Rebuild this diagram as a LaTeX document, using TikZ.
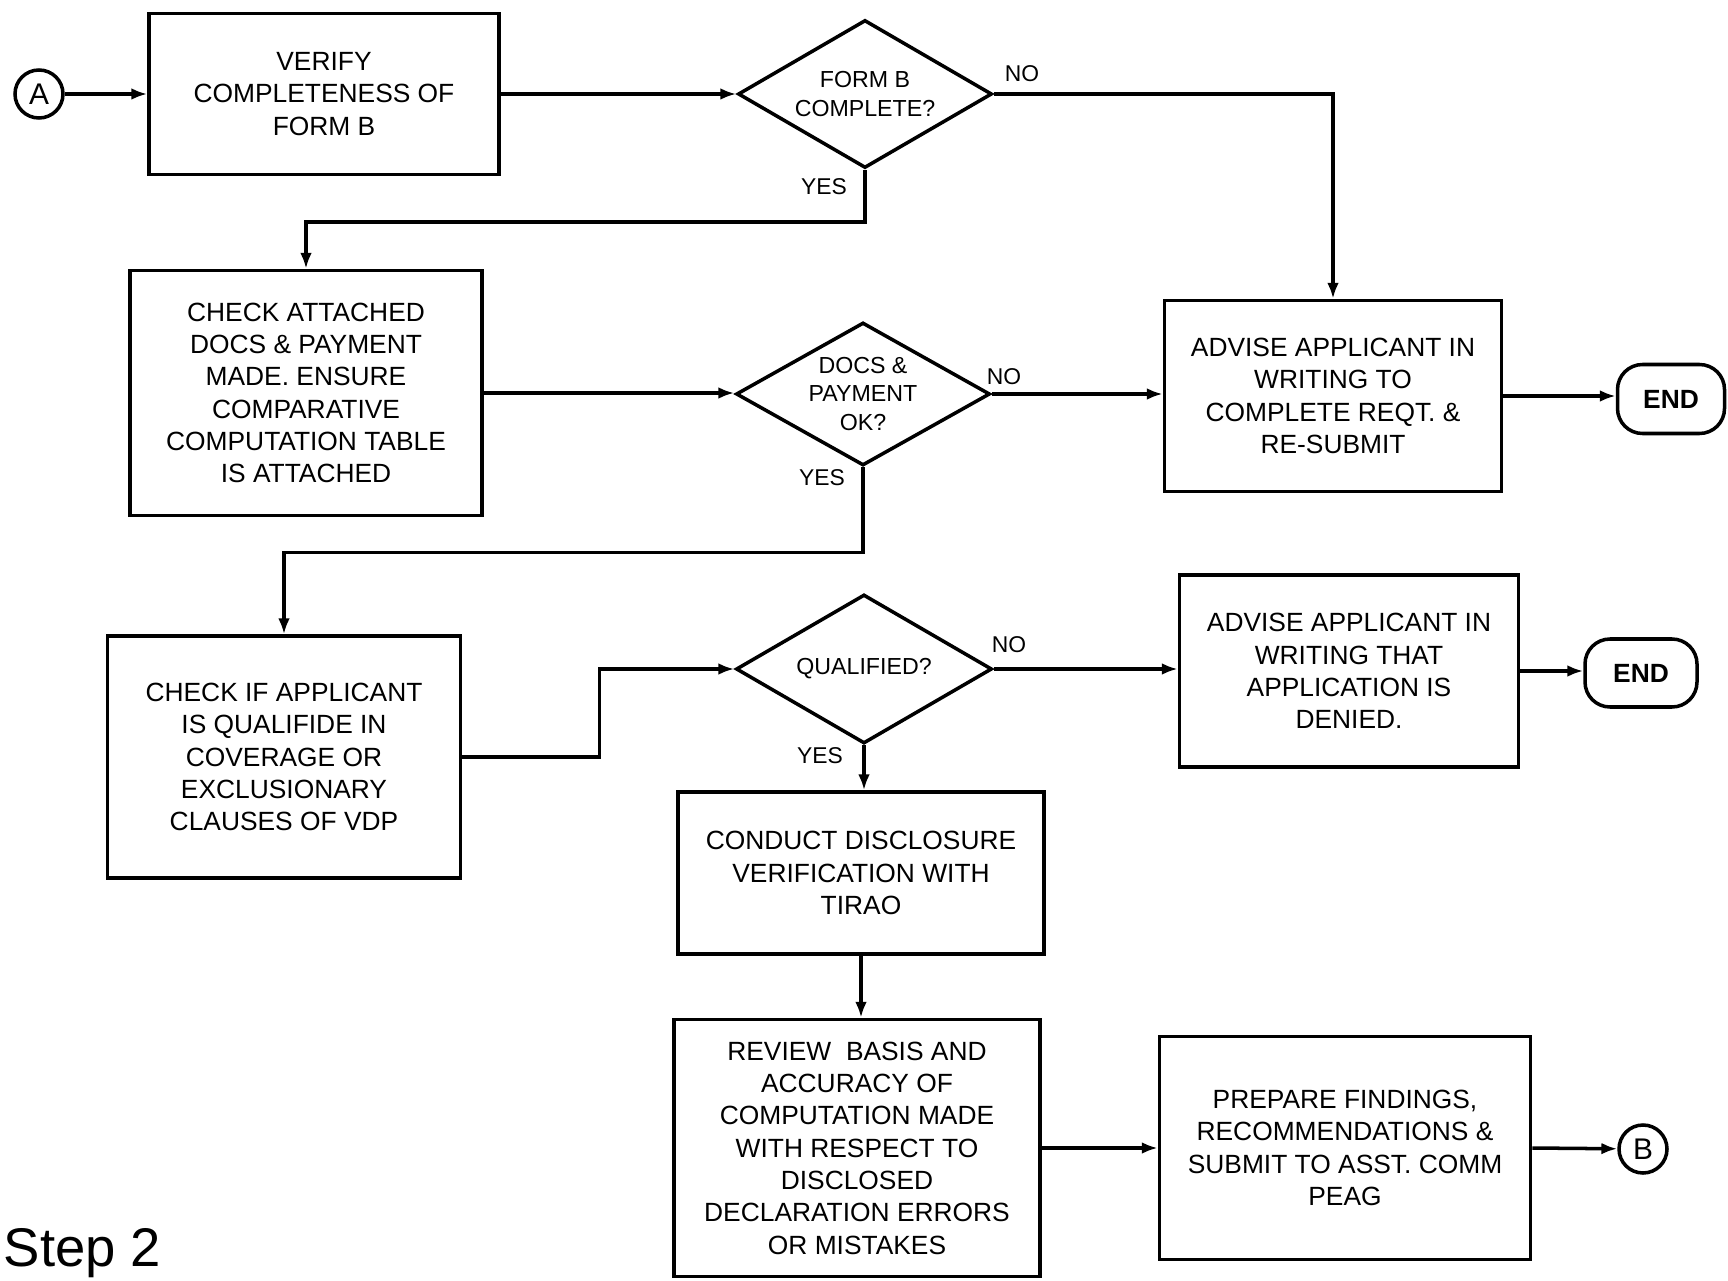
\documentclass[tikz,border=0pt]{standalone}
\usepackage{fontspec}
\setmainfont{Liberation Sans}
\usetikzlibrary{shapes.geometric,arrows.meta}

\begin{document}
\begin{tikzpicture}[x=0.1mm, y=-0.1mm,
    box/.style={draw, line width=1pt, align=center, inner sep=0pt, font=\fontsize{7.5}{9.2}\selectfont},
    decision/.style={draw, diamond, line width=1pt, inner sep=0pt, minimum width=25.4mm},
    dtext/.style={align=center, font=\fontsize{6.6}{8.2}\selectfont},
    term/.style={draw, line width=1pt, rounded corners=2.5mm, inner sep=0pt, font=\bfseries\fontsize{7.5}{9}\selectfont},
    conn/.style={draw, circle, line width=1pt, minimum size=4.8mm, inner sep=0pt, font=\fontsize{8.5}{9}\selectfont},
    yesno/.style={font=\fontsize{6.5}{7}\selectfont, inner sep=0pt},
    arr/.style={-{Latex[length=4.5pt,width=3.3pt]}, line width=1pt}]

    % Page size and background
    \useasboundingbox (0,0) rectangle (1728,1281);
    \fill[white] (0,0) rectangle (1728,1281);

    % Draw the boxes
    \node[conn] (A) at (39,94) {A};
    \node[box, minimum width=35mm, minimum height=16.1mm] (verify) at (324,94) {VERIFY\\COMPLETENESS OF\\FORM B};
    \node[box, minimum width=35.2mm, minimum height=24.5mm] (check) at (306,393) {CHECK ATTACHED\\DOCS \& PAYMENT\\MADE. ENSURE\\COMPARATIVE\\COMPUTATION TABLE\\IS ATTACHED};
    \node[box, minimum width=33.7mm, minimum height=19.1mm] (adv1) at (1333,396) {ADVISE APPLICANT IN\\WRITING TO\\COMPLETE REQT. \&\\RE-SUBMIT};
    \node[term, minimum width=10.7mm, minimum height=6.9mm] (end1) at (1671,399) {END};
    \node[box, minimum width=35.3mm, minimum height=24.2mm] (check2) at (284,757) {CHECK IF APPLICANT\\IS QUALIFIDE IN\\COVERAGE OR\\EXCLUSIONARY\\CLAUSES OF VDP};
    \node[box, minimum width=33.9mm, minimum height=19.2mm] (adv2) at (1349,671) {ADVISE APPLICANT IN\\WRITING THAT\\APPLICATION IS\\DENIED.};
    \node[term, minimum width=11.2mm, minimum height=6.8mm] (end2) at (1641,673) {END};
    \node[box, minimum width=36.6mm, minimum height=16.2mm] (conduct) at (861,873) {CONDUCT DISCLOSURE\\VERIFICATION WITH\\TIRAO};
    \node[box, minimum width=36.6mm, minimum height=25.7mm] (review) at (857,1148) {REVIEW\ \ BASIS AND\\ACCURACY OF\\COMPUTATION MADE\\WITH RESPECT TO\\DISCLOSED\\DECLARATION ERRORS\\OR MISTAKES};
    \node[box, minimum width=37.1mm, minimum height=22.3mm] (prepare) at (1345,1148) {PREPARE FINDINGS,\\RECOMMENDATIONS \&\\SUBMIT TO ASST. COMM\\PEAG};
    \node[conn] (B) at (1643,1149) {B};

    % Draw the decisions
    \node[decision, minimum height=14.8mm, label={[dtext, name=d1txt]center:FORM B\\COMPLETE?}] (d1) at (865,94) {};
    \node[decision, minimum height=14.3mm, label={[dtext, name=d2txt]center:DOCS \&\\PAYMENT\\OK?}] (d2) at (863,394) {};
    \node[decision, minimum height=14.9mm, minimum width=25.6mm, label={[dtext, name=d3txt]center:QUALIFIED?}] (d3) at (864,669) {};

    % Yes / no labels
    \node[yesno] (no1) at (1022,74) {NO};
    \node[yesno] (yes1) at (824,187) {YES};
    \node[yesno] (no2) at (1004,377) {NO};
    \node[yesno] (yes2) at (822,478) {YES};
    \node[yesno] (no3) at (1009,645) {NO};
    \node[yesno] (yes3) at (820,756) {YES};

    % Draw the arrows
    \draw[arr] (A) -- (verify);
    \draw[arr] (verify) -- (d1);
    \draw[arr] (d1.east) -| (adv1.north);
    \draw[arr] (d1.south) -- ++(0,52) -| (check.north);
    \draw[arr] (check.east) -- (check.east -| d2.west);
    \draw[arr] (d2.east) -- (d2.east -| adv1.west);
    \draw[arr] (adv1.east) -- (adv1.east -| end1.west);
    \draw[arr] (d2.south) -- ++(0,85) -| (check2.north);
    \draw[arr] (check2.east) -- ++(137,0) |- (d3.west);
    \draw[arr] (d3.east) -- (d3.east -| adv2.west);
    \draw[arr] (adv2.east) -- (adv2.east -| end2.west);
    \draw[arr] (d3.south) -- (d3.south |- conduct.north);
    \draw[arr] (conduct.south) -- (conduct.south |- review.north);
    \draw[arr] (review.east) -- (review.east -| prepare.west);
    \draw[arr] (prepare.east) -- (B);

    % Step title in the bottom left corner
    \node[anchor=base west, inner sep=0pt, font=\fontsize{15.5}{18}\selectfont] (step) at (3,1266) {Step 2};
\end{tikzpicture}
\end{document}
